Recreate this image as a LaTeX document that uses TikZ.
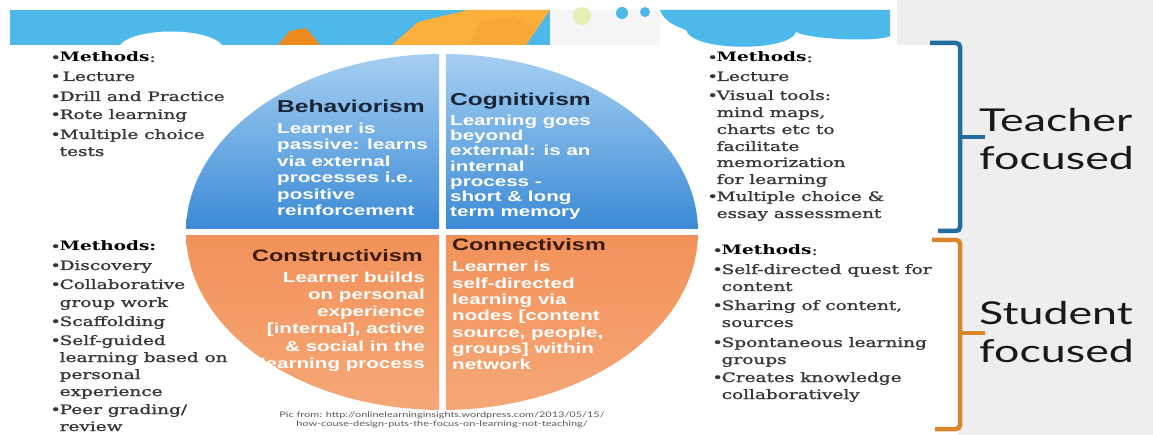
\documentclass[tikz,border=0pt]{standalone}
\usepackage{fontspec}
\newfontfamily\serfont[FakeStretch=1.42,FakeBold=1.2]{DejaVu Serif}
\newfontfamily\serbold[FakeStretch=1.42]{DejaVu Serif Bold}
\newfontfamily\sanfont[FakeStretch=1.42]{Liberation Sans}
\newfontfamily\gilfont[FakeStretch=1.42]{Lato}
\definecolor{bandblue}{HTML}{4DB8EA}
\definecolor{qblueT}{HTML}{A8D1F2}
\definecolor{qblueB}{HTML}{3B8AD6}
\definecolor{qorT}{HTML}{F2925A}
\definecolor{qorB}{HTML}{F6A878}
\definecolor{navy}{HTML}{1A2436}
\definecolor{dbrown}{HTML}{3B1A0E}
\definecolor{txtgray}{HTML}{363636}
\definecolor{brblue}{HTML}{1F6E9E}
\definecolor{brorange}{HTML}{D9862B}
\definecolor{bggray}{HTML}{EEEEEE}
\definecolor{orA}{HTML}{EE8A1A}
\definecolor{orB}{HTML}{FBB03B}
\definecolor{ygreen}{HTML}{E6EFB4}
\newcommand\bul{\makebox[9.5pt][l]{•}}
\newcommand\ind{\hspace*{9.5pt}}
\newcommand\meth[1]{\textcolor{black}{\serbold #1}}
\tikzset{
  item/.style={font=\serfont\fontsize{13}{15}\selectfont, text=txtgray, anchor=base west, inner sep=0pt},
  ttl/.style={font=\sanfont\bfseries\fontsize{16.5}{18}\selectfont, inner sep=0pt},
  ttlup/.style={font=\sanfont\bfseries\fontsize{17.3}{19}\selectfont, inner sep=0pt},
  body/.style={font=\sanfont\bfseries\fontsize{14.5}{16}\selectfont, text=white, inner sep=0pt},
  big/.style={font=\gilfont\fontsize{31.5}{36}\selectfont, text=black!90, anchor=base west, inner sep=0pt},
  note/.style={font=\gilfont\fontsize{7.7}{9}\selectfont, text=black!65, anchor=base, inner sep=0pt},
  brace/.style={line width=4.5pt, rounded corners=4pt}
}
\begin{document}
\begin{tikzpicture}[x=1pt,y=-1pt]
\useasboundingbox (0,0) rectangle (1153,435);
% background
\fill[white] (0,0) rectangle (1153,435);
\fill[bggray] (897,0) rectangle (1153,435);
\fill[white] (897,45) rectangle (958,435);
% top band
\fill[bandblue] (10,10) rectangle (560,45);
\fill[white] (120,45) .. controls (135,27) and (207,27) .. (222,45) -- cycle;
\fill[orA] (278,45) -- (290,31) -- (306,28) -- (320,45) -- cycle;
\fill[orB] (392,45) -- (418,22) -- (468,10) -- (550,10) -- (526,45) -- cycle;
\fill[orB!80!orA] (470,45) -- (480,22) -- (515,16) -- (535,28) -- (526,45) -- cycle;
\fill[black!4] (550,10) rectangle (660,45);
\fill[ygreen] (582,16) circle (9);
\fill[bandblue] (622,13) circle (6);
\fill[bandblue] (645,12) circle (5);
\fill[bandblue] (660,10) -- (890,10) -- (890,36) .. controls (880,42) and (812,40) .. (796,32)
  .. controls (790,52) and (692,52) .. (686,30) .. controls (676,26) and (664,22) .. (660,10) -- cycle;
% quadrants
\begin{scope}
\clip (442,232) ellipse [x radius=256, y radius=178];
\shade[top color=qblueT, bottom color=qblueB] (180,50) rectangle (439,229);
\shade[top color=qblueT, bottom color=qblueB] (446,50) rectangle (705,229);
\shade[top color=qorT, bottom color=qorB] (180,236) rectangle (439,415);
\shade[top color=qorT, bottom color=qorB] (446,236) rectangle (705,415);
\end{scope}
% circle texts
\node[ttlup, text=navy, anchor=base west] (beh) at (277,113) {Behaviorism};
\foreach \yy/\txt [count=\i] in {133.5/{Learner is},150/{passive: learns},166.5/{via external},183/{processes i.e.},199.5/{positive},216/{reinforcement}}
  {\node[body, anchor=base west] (behb\i) at (277,\yy) {\txt};}
\node[ttlup, text=navy, anchor=base west] (cog) at (450,106) {Cognitivism};
\foreach \yy/\txt [count=\i] in {125.5/{Learning goes},140.7/{beyond},155.9/{external: is an},171.1/{internal},186.3/{process -},201.5/{short \& long},216.7/{term memory}}
  {\node[body, anchor=base west] (cogb\i) at (450,\yy) {\txt};}
\node[ttl, text=dbrown, anchor=base east] (con) at (423,262) {Constructivism};
\foreach \yy/\txt [count=\i] in {283/{Learner builds},300/{on personal},317/{experience},334/{[internal], active},351/{\& social in the},368/{learning process}}
  {\node[body, anchor=base east] (conb\i) at (425,\yy) {\txt};}
\node[ttl, text=dbrown, anchor=base west] (cnn) at (452,251) {Connectivism};
\foreach \yy/\txt [count=\i] in {272/{Learner is},288.3/{self-directed},304.6/{learning via},320.9/{nodes [content},337.2/{source, people,},353.5/{groups] within},369.8/{network}}
  {\node[body, anchor=base west] (cnnb\i) at (452,\yy) {\txt};}
% method lists
\foreach \yy/\txt [count=\i] in {62/{\bul\meth{Methods}:},81/{\bul\hspace{3pt}Lecture},101/{\bul Drill and Practice},119/{\bul Rote learning},139/{\bul Multiple choice},156/{\ind tests}}
  {\node[item] (tl\i) at (50,\yy) {\txt};}
\foreach \yy/\txt [count=\i] in {251/{\bul\meth{Methods:}},270/{\bul Discovery},289/{\bul Collaborative},307/{\ind group work},326/{\bul Scaffolding},345/{\bul Self-guided},362/{\ind learning based on},379/{\ind personal},396/{\ind experience},414/{\bul Peer grading/},431/{\ind review}}
  {\node[item] (bl\i) at (50,\yy) {\txt};}
\foreach \yy/\txt [count=\i] in {62/{\bul\meth{Methods}:},81/{\bul Lecture},100/{\bul Visual tools:},117/{\ind mind maps,},134/{\ind charts etc to},151/{\ind facilitate},167/{\ind memorization},184/{\ind for learning},201/{\bul Multiple choice \&},218/{\ind essay assessment}}
  {\node[item] (tr\i) at (707,\yy) {\txt};}
\foreach \yy/\txt [count=\i] in {255/{\bul\meth{Methods}:},274/{\bul Self-directed quest for},291/{\ind content},310/{\bul Sharing of content,},327/{\ind sources},347/{\bul Spontaneous learning},364/{\ind groups},382/{\bul Creates knowledge},399/{\ind collaboratively}}
  {\node[item] (br\i) at (712,\yy) {\txt};}
% brackets
\draw[brace, brblue] (930,43) -- (960,43) -- (960,231) -- (938,231);
\draw[brblue, line width=4.5pt] (960,137) -- (985,137);
\draw[brace, brorange] (932,240) -- (960,240) -- (960,429) -- (935,429);
\draw[brorange, line width=4.5pt] (960,333) -- (985,333);
% side labels
\node[big] (t1) at (979,132) {Teacher};
\node[big] (t2) at (979,170) {focused};
\node[big] (s1) at (979,324) {Student};
\node[big] (s2) at (979,362) {focused};
% footnote
\node[note] (n1) at (442,417) {Pic from: http://onlinelearninginsights.wordpress.com/2013/05/15/};
\node[note] (n2) at (442,426) {how-couse-design-puts-the-focus-on-learning-not-teaching/};
\end{tikzpicture}
\end{document}
